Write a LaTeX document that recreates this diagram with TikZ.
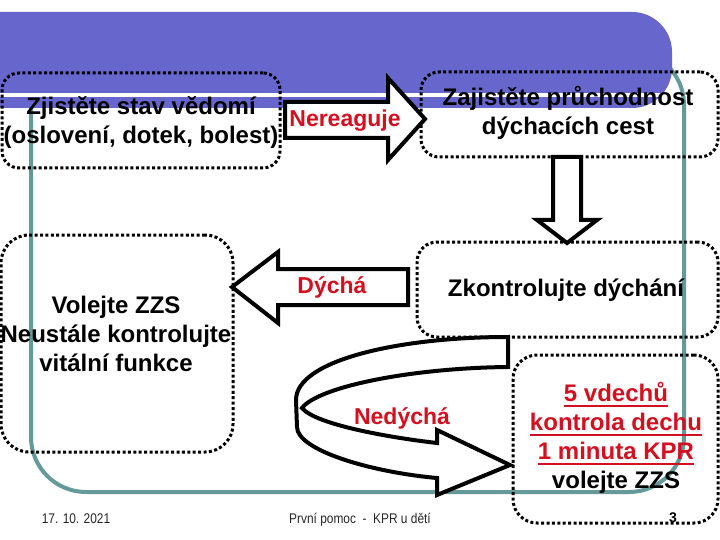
\documentclass[tikz,border=0pt]{standalone}
\usepackage{fontspec}
\usepackage{graphicx}
\setmainfont{Liberation Sans}
\definecolor{banner}{RGB}{102,102,204}
\definecolor{frameteal}{RGB}{102,153,153}
\definecolor{alert}{RGB}{212,16,32}
\newsavebox{\ulbx}
\newcommand\redul[1]{\sbox{\ulbx}{#1}\rlap{\rule[-5pt]{\wd\ulbx}{2pt}}\usebox{\ulbx}}
\begin{document}
\begin{tikzpicture}[x=1pt,y=-1pt,
  box/.style={draw=black, line width=3pt, dash pattern=on 3pt off 2.4pt,
    rounded corners=#1, inner sep=0pt, outer sep=0pt},
  txt/.style={align=center, inner sep=0pt, font=\fontsize{24}{29}\selectfont\bfseries},
  lbl/.style={inner sep=0pt, text=alert, font=\fontsize{23}{27}\selectfont\bfseries},
  blockarrow/.style={draw=black, fill=white, line width=4pt, line join=miter},
  foot/.style={inner sep=0pt, anchor=base, text=black!85, font=\fontsize{14}{16}\selectfont}]
\useasboundingbox (0,0) rectangle (720,540);
% teal frame
\draw[frameteal, line width=4pt, rounded corners=55pt] (31,50) rectangle (684,492);
% banner
\fill[banner] (0,12) -- (632,12) arc(270:360:40) -- (672,68) arc(0:90:40) -- (0,108) -- cycle;
\draw[white, line width=3.5pt] (0,95) -- (662,95);
% boxes
\node[box=17pt, minimum width=278pt, minimum height=95pt] (boxA) at (141,120.5) {};
\node[box=18pt, minimum width=297pt, minimum height=85pt] (boxB) at (569.5,114.5) {};
\node[box=28pt, minimum width=232pt, minimum height=217pt] (boxC) at (117,343.5) {};
\node[box=20pt, minimum width=301pt, minimum height=95pt] (boxD) at (567.5,289.5) {};
\node[box=24pt, minimum width=205pt, minimum height=168pt] (boxE) at (615.5,439) {};
% block arrows
\draw[blockarrow] (285,102) -- (388,102) -- (388,78) -- (425,119) -- (388,160)
  -- (388,138) -- (285,138) -- cycle;
\draw[blockarrow] (553,157) -- (581,157) -- (581,220) -- (597,220) -- (567,243)
  -- (537,220) -- (553,220) -- cycle;
\draw[blockarrow] (408,269) -- (278,269) -- (278,252) -- (232,287) -- (278,323)
  -- (278,305) -- (408,305) -- cycle;
\draw[blockarrow] (508,337) .. controls (400,337) and (296,360) .. (296,400)
  -- (297,427) .. controls (297,450) and (370,472) .. (437,478)
  -- (437,495) -- (510,465) -- (437,430) -- (437,443)
  .. controls (385,437) and (315,424) .. (302,408)
  .. controls (318,387) and (410,368) .. (508,367) -- cycle;
% texts
\node[txt] (tA) at (141,123) {Zjistěte stav vědomí\\(oslovení, dotek, bolest)};
\node[txt] (tB) at (568,113) {Zajistěte průchodnost\\dýchacích cest};
\node[txt] (tC) at (116,334) {Volejte ZZS\\Neustále kontrolujte\\vitální funkce};
\node[txt] (tD) at (566,290) {Zkontrolujte dýchání};
\node[txt] (tE) at (616,438) {\textcolor{alert}{\redul{5 vdechů}}\\
  \textcolor{alert}{\redul{kontrola dechu}}\\
  \textcolor{alert}{\redul{1 minuta KPR}}\\volejte ZZS};
\node[lbl] (nereaguje) at (345,120.5) {Nereaguje};
\node[lbl] (dycha) at (332,287) {Dýchá};
\node[lbl] (nedycha) at (402,418) {Nedýchá};
% footer
\node[foot] (date) at (76,523) {\scalebox{0.85}[1]{17. 10. 2021}};
\node[foot] (title) at (360,523) {\scalebox{0.85}[1]{První pomoc\ \ -\ \ KPR u dětí}};
\node[foot, font=\fontsize{14}{16}\selectfont\bfseries, text=black] (page) at (673,522) {3};
\end{tikzpicture}
\end{document}
